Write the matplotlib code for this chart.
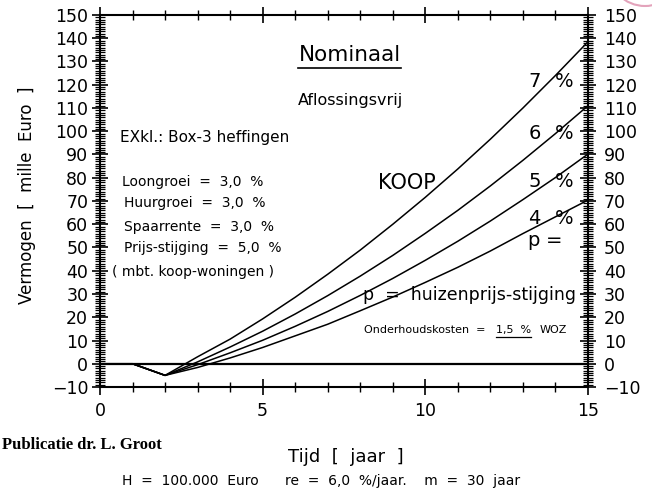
import matplotlib
matplotlib.use("Agg")
import matplotlib.pyplot as plt
from matplotlib.ticker import MultipleLocator
from matplotlib.patches import Ellipse

plt.rcParams['font.family'] = ['DejaVu Sans']

# jaren en vermogen (mille Euro) per huizenprijs-stijging p
years = [0, 1, 2, 3, 4, 5, 6, 7, 8, 9, 10, 11, 12, 13, 14, 15]
koop_7 = [0, 0, -5, 3.0, 10.6, 19.3, 28.6, 38.5, 48.9, 60.0, 71.6, 83.8, 96.6, 110.0, 124.0, 138.5]
koop_6 = [0, 0, -5, 0.8, 7.2, 14.0, 21.4, 29.3, 37.7, 46.6, 56.1, 66.0, 76.5, 87.5, 99.0, 111.0]
koop_5 = [0, 0, -5, -0.4, 4.7, 10.1, 16.1, 22.5, 29.4, 36.7, 44.5, 52.7, 61.4, 70.6, 80.1, 90.2]
koop_4 = [0, 0, -5, -1.6, 2.5, 7.0, 12.0, 17.0, 22.8, 28.7, 35.0, 41.5, 48.5, 56.0, 63.2, 70.4]
pct_labels = ['7', '6', '5', '4']
pct_label_y = [121.2, 99.1, 78.5, 62.6]

fig = plt.figure(figsize=(6.52, 4.98), dpi=100)
ax = fig.add_axes([100/652, 1-387/498, 488/652, 372/498])

ax.axhline(0, color='k', lw=1.6)
for vals in [koop_7, koop_6, koop_5, koop_4]:
    ax.plot(years, vals, color='k', lw=1.1)

ax.set_xlim(0, 15)
ax.set_ylim(-10, 150)
for s in ax.spines.values():
    s.set_linewidth(1.5)

ax.xaxis.set_major_locator(MultipleLocator(5))
ax.xaxis.set_minor_locator(MultipleLocator(1))
ax.yaxis.set_major_locator(MultipleLocator(10))
ax.yaxis.set_minor_locator(MultipleLocator(1))
ax.tick_params(axis='x', which='major', direction='inout', length=12, width=1.2,
               top=True, bottom=True, labelsize=12.5, pad=5)
ax.tick_params(axis='x', which='minor', direction='inout', length=7, width=1.0,
               top=True, bottom=True)
ax.tick_params(axis='y', which='major', direction='inout', length=11, width=1.2,
               left=True, right=True, labelsize=12.5, pad=3)
ax.tick_params(axis='y', which='minor', direction='inout', length=7, width=0.9,
               left=True, right=True)

ax2 = ax.twinx()
ax2.set_ylim(-10, 150)
ax2.yaxis.set_major_locator(MultipleLocator(10))
ax2.yaxis.set_minor_locator(MultipleLocator(1))
ax2.tick_params(axis='y', which='major', direction='inout', length=11, width=1.2,
                labelsize=12.5, pad=6)
ax2.tick_params(axis='y', which='minor', direction='inout', length=7, width=0.9)
for s in ax2.spines.values():
    s.set_visible(False)

# teksten in de grafiek
t_nom = ax.text(7.67, 132.8, 'Nominaal', fontsize=15.5, ha='center', va='center')
ax.text(7.71, 113.4, 'Aflossingsvrij', fontsize=11.5, ha='center', va='center')
ax.text(0.61, 97.5, 'EXkl.: Box-3 heffingen', fontsize=11, va='center')
ax.text(0.67, 78.2, 'Loongroei  =  3,0  %', fontsize=10, va='center')
ax.text(0.73, 69.1, 'Huurgroei  =  3,0  %', fontsize=10, va='center')
ax.text(0.73, 58.8, 'Spaarrente  =  3,0  %', fontsize=10, va='center')
ax.text(0.73, 49.8, 'Prijs-stijging  =  5,0  %', fontsize=10, va='center')
ax.text(0.37, 39.6, '( mbt. koop-woningen )', fontsize=10, va='center')
ax.text(8.56, 77.8, 'KOOP', fontsize=15, va='center')

for lab, yy in zip(pct_labels, pct_label_y):
    ax.text(13.36, yy, lab, fontsize=14, ha='center', va='center')
    ax.text(14.26, yy, '%', fontsize=14, ha='center', va='center')
ax.text(13.31, 53.2, 'p', fontsize=14, ha='center', va='center')
ax.text(13.96, 53.2, '=', fontsize=14, ha='center', va='center')

ax.text(8.07, 29.6, 'p  =  huizenprijs-stijging', fontsize=12.5, va='center')
ax.text(8.13, 14.5, 'Onderhoudskosten  =', fontsize=8, va='center')
t_ok = ax.text(12.18, 14.5, '1,5  %', fontsize=8, va='center')
ax.text(13.5, 14.5, 'WOZ', fontsize=8, va='center')

# teksten buiten de grafiek
fig.text(27/652, 1-195/498, 'Vermogen  [  mille  Euro  ]', rotation=90,
         fontsize=12, ha='center', va='center')
fig.text(346/652, 1-457/498, 'Tijd  [  jaar  ]', fontsize=13, ha='center', va='center')
fig.text(122/652, 1-481/498, 'H  =  100.000  Euro      re  =  6,0  %/jaar.    m  =  30  jaar',
         fontsize=10, ha='left', va='center')
fig.text(2/652, 1-445/498, 'Publicatie dr. L. Groot', fontsize=12,
         family='Liberation Serif', weight='bold', ha='left', va='center')

# stempelrand rechtsboven
fig.add_artist(Ellipse((645/652, 1+31/498), 74/652, 74/498, transform=fig.transFigure,
                       fill=False, edgecolor='#e3a3bb', lw=1.5, clip_on=False))

# onderstrepingen
fig.canvas.draw()
inv = ax.transData.inverted()
for txt, yline in [(t_nom, 127.2), (t_ok, 11.5)]:
    bb = txt.get_window_extent()
    x0 = inv.transform((bb.x0, bb.y0))[0]
    x1 = inv.transform((bb.x1, bb.y0))[0]
    ax.plot([x0, x1], [yline, yline], color='k', lw=1.2 if txt is t_nom else 0.9)

fig.savefig('out.png', dpi=100)
